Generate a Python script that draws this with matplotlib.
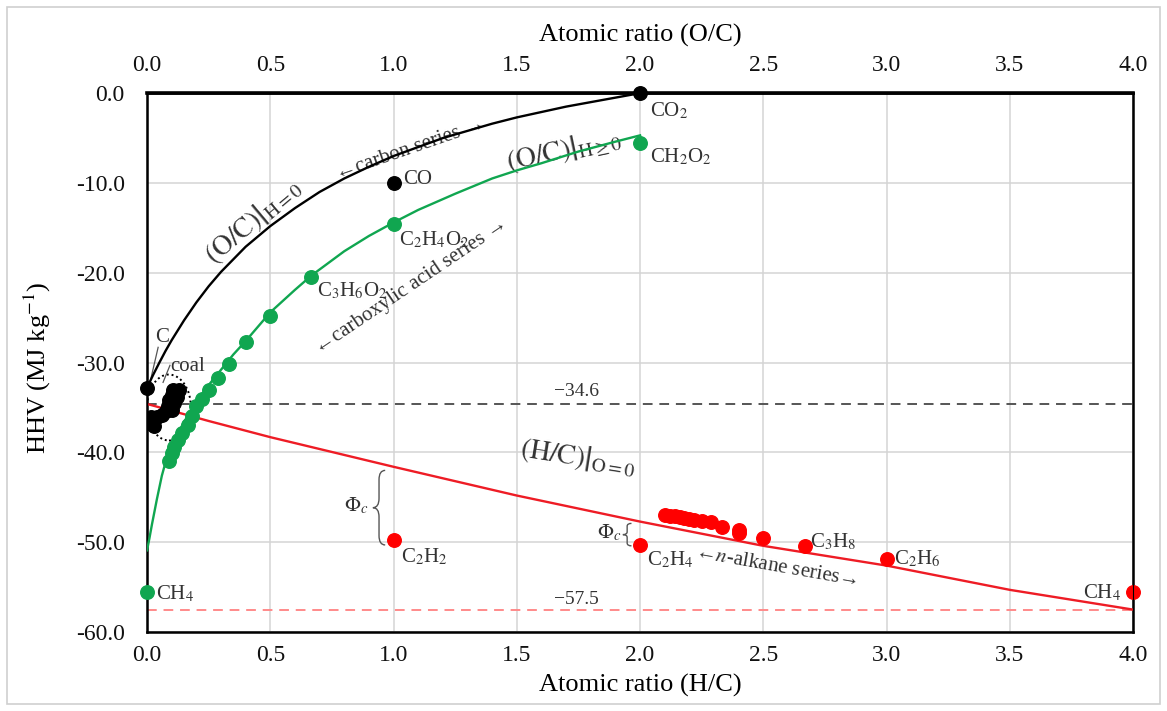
import numpy as np
import matplotlib
matplotlib.use("Agg")
import matplotlib.pyplot as plt
from matplotlib.path import Path
from matplotlib.patches import PathPatch, Ellipse, Rectangle

plt.rcParams['font.family'] = ['Liberation Serif', 'DejaVu Serif']
plt.rcParams['mathtext.fontset'] = 'stix'
plt.rcParams['axes.unicode_minus'] = False

# ---- data ----
# carbon series, plotted against O/C (top axis)
carbon_oc = [0.0, 1.0, 2.0]
carbon_hhv = [-32.8, -10.0, 0.0]

# (O/C)|H=0 curve
curve_h0_oc = [0.0, 0.025, 0.05, 0.075, 0.1, 0.15, 0.2, 0.25, 0.3, 0.4, 0.5, 0.6, 0.7,
               0.8, 0.9, 1.0, 1.1, 1.2, 1.3, 1.4, 1.5, 1.6, 1.7, 1.8, 1.9, 2.0]
curve_h0_hhv = [-32.8, -31.35, -30.0, -28.7, -27.5, -25.3, -23.3, -21.5, -19.9, -17.1,
                -14.8, -12.8, -11.0, -9.5, -8.2, -7.0, -6.0, -5.0, -4.2, -3.4, -2.7,
                -2.1, -1.5, -1.0, -0.5, 0.0]

# carboxylic acid series (O/C)
acid_oc = [2.0, 1.0, 0.667, 0.5, 0.4, 0.333, 0.286, 0.25, 0.222, 0.2,
           0.182, 0.167, 0.143, 0.125, 0.111, 0.1, 0.091]
acid_hhv = [-5.5, -14.6, -20.5, -24.8, -27.7, -30.1, -31.7, -33.0, -34.0, -34.8,
            -35.9, -37.0, -37.8, -38.6, -39.4, -40.1, -41.0]

# (O/C)|H>=0 curve
curve_acid_oc = [0.0, 0.01, 0.02, 0.03, 0.04, 0.06, 0.08, 0.1, 0.15, 0.2, 0.25, 0.3,
                 0.35, 0.4, 0.5, 0.6, 0.667, 0.8, 0.9, 1.0, 1.1, 1.25, 1.4, 1.5,
                 1.6, 1.75, 1.9, 2.0]
curve_acid_hhv = [-50.9, -49.5, -48.0, -46.6, -45.2, -42.6, -40.6, -39.2, -36.6, -34.4,
                  -32.5, -30.8, -29.1, -27.6, -24.4, -21.9, -20.3, -17.6, -15.9, -14.4,
                  -13.0, -11.2, -9.5, -8.6, -7.8, -6.5, -5.4, -4.7]

ch4_green = (0.0, -55.5)

# coal samples
coal_x = [0.015, 0.019, 0.028, 0.039, 0.06, 0.076, 0.084, 0.089, 0.1, 0.107,
          0.131, 0.12, 0.109, 0.1]
coal_hhv = [-36.0, -36.85, -37.1, -36.1, -35.8, -35.4, -34.8, -34.2, -33.6, -33.1,
            -33.0, -33.8, -34.5, -35.3]

# hydrocarbons, plotted against H/C (bottom axis)
hc_x = [1.0, 2.0, 2.1, 2.12, 2.14, 2.16, 2.18, 2.2, 2.22, 2.25, 2.286, 2.333,
        2.4, 2.4, 2.5, 2.667, 3.0, 4.0]
hc_hhv = [-49.8, -50.3, -47.0, -47.1, -47.1, -47.2, -47.3, -47.4, -47.5, -47.6,
          -47.8, -48.3, -48.6, -49.0, -49.5, -50.4, -51.9, -55.5]

# (H/C)|O=0 line
line_o0_hc = [0.0, 0.25, 0.5, 1.0, 1.5, 2.0, 2.5, 3.0, 3.5, 4.0]
line_o0_hhv = [-34.6, -36.5, -38.3, -41.6, -44.8, -47.7, -50.4, -52.6, -55.3, -57.5]

ref_black = -34.6
ref_red = -57.5

x_ticks = [0.0, 0.5, 1.0, 1.5, 2.0, 2.5, 3.0, 3.5, 4.0]
x_ticklabels = ['0.0', '0.5', '1.0', '1.5', '2.0', '2.5', '3.0', '3.5', '4.0']
y_ticks = [0, -10, -20, -30, -40, -50, -60]
y_ticklabels = ['0.0', '-10.0', '-20.0', '-30.0', '-40.0', '-50.0', '-60.0']

GREEN = '#10a650'
RED = '#ff0000'
TXT = '#333333'


def vbrace(axis, x, y0, y1, w, **kw):
    # curly brace opening to the right, tip at x - w
    ym = (y0 + y1) / 2.0
    h = (y1 - y0) / 2.0
    xm = x - w / 2.0
    verts = [(x, y1), (xm, y1), (xm, y1 - 0.25 * h),
             (xm, ym + 0.25 * h),
             (xm, ym), (x - w, ym),
             (xm, ym), (xm, ym - 0.25 * h),
             (xm, y0 + 0.25 * h),
             (xm, y0), (x, y0)]
    codes = [Path.MOVETO, Path.CURVE3, Path.CURVE3, Path.LINETO,
             Path.CURVE3, Path.CURVE3, Path.CURVE3, Path.CURVE3,
             Path.LINETO, Path.CURVE3, Path.CURVE3]
    axis.add_patch(PathPatch(Path(verts, codes), fill=False, **kw))


fig = plt.figure(figsize=(11.67, 7.11), dpi=100)
fig.patches.append(Rectangle((0.006, 0.01), 0.988, 0.98, transform=fig.transFigure,
                             fill=False, edgecolor='#cfcfcf', lw=1.2))
ax = fig.add_axes([0.126, 0.111, 0.845, 0.758])
ax.set_xlim(0, 4)
ax.set_ylim(-60, 0)
ax.set_xticks(x_ticks)
ax.set_xticklabels(x_ticklabels)
ax.set_yticks(y_ticks)
ax.set_yticklabels(y_ticklabels)
ax.tick_params(axis='x', length=0, labelsize=17, pad=9, colors='#111111')
ax.tick_params(axis='y', length=0, labelsize=17, pad=16, colors='#111111')
ax.grid(True, color='#d4d4d4', lw=1.1)
ax.set_axisbelow(True)
for s in ax.spines.values():
    s.set_color('black')
    s.set_linewidth(1.8)
ax.set_xlabel('Atomic ratio (H/C)', fontsize=19)
ax.xaxis.set_label_coords(0.5, -0.078)
ax.set_ylabel('HHV (MJ kg$^{-1}$)', fontsize=19)
ax.yaxis.set_label_coords(-0.095, 0.49)

ax2 = ax.twiny()
ax2.set_xlim(0, 4)
ax2.set_xticks(x_ticks)
ax2.set_xticklabels(x_ticklabels)
ax2.tick_params(length=0, labelsize=17, pad=12, colors='#111111')
ax2.spines['top'].set_linewidth(2.6)
ax2.set_xlabel('Atomic ratio (O/C)', fontsize=19)
ax2.xaxis.set_label_coords(0.5, 1.095)

# reference lines
ax.axhline(ref_black, color='#555555', ls=(0, (5, 3.5)), lw=1.4, zorder=2)
ax.axhline(ref_red, color='#ff8a8a', ls=(0, (5, 3.5)), lw=1.4, zorder=2)
ax.text(1.74, ref_black + 0.4, '\u221234.6', fontsize=14, color=TXT, ha='center', va='bottom')
ax.text(1.74, ref_red + 0.2, '\u221257.5', fontsize=14, color=TXT, ha='center', va='bottom')

# model curves
ax2.plot(curve_h0_oc, curve_h0_hhv, color='black', lw=1.7, zorder=3)
ax2.plot(curve_acid_oc, curve_acid_hhv, color=GREEN, lw=1.7, zorder=3)
ax.plot(line_o0_hc, line_o0_hhv, color='#ee1c25', lw=1.7, zorder=3)

# points
ms = 95
ax2.scatter(acid_oc, acid_hhv, s=ms, color=GREEN, zorder=5, clip_on=False)
ax2.scatter([ch4_green[0]], [ch4_green[1]], s=ms, color=GREEN, zorder=5, clip_on=False)
ax.scatter(coal_x, coal_hhv, s=ms, color='black', zorder=5)
ax2.scatter(carbon_oc, carbon_hhv, s=ms, color='black', zorder=6, clip_on=False)
ax.scatter(hc_x, hc_hhv, s=ms, color=RED, zorder=5, clip_on=False)

# coal ellipse and leaders
ax.add_patch(Ellipse((0.089, -35.0), 0.178, 7.35, fill=False, ls=(0, (1, 1.5)),
                     lw=1.4, color='black', zorder=4))
ax.plot([0.045, 0.012], [-28.3, -32.2], color='#555555', lw=0.9, zorder=4)
ax.plot([0.093, 0.065], [-30.3, -32.2], color='#555555', lw=0.9, zorder=4)
ax.text(0.062, -27.2, 'C', fontsize=15, color=TXT, ha='center', va='center')
ax.text(0.095, -30.4, 'coal', fontsize=15, color=TXT, ha='left', va='center')

# compound labels
fs = 15
ax.text(2.04, -0.8, 'CO$_2$', fontsize=fs, color=TXT, ha='left', va='top')
ax.text(2.04, -6.0, 'CH$_2$O$_2$', fontsize=fs, color=TXT, ha='left', va='top')
ax.text(1.04, -9.6, 'CO', fontsize=fs, color=TXT, ha='left', va='center')
ax.text(1.02, -15.2, 'C$_2$H$_4$O$_2$', fontsize=fs, color=TXT, ha='left', va='top')
ax.text(0.69, -20.9, 'C$_3$H$_6$O$_2$', fontsize=fs, color=TXT, ha='left', va='top')
ax.text(1.03, -50.5, 'C$_2$H$_2$', fontsize=fs, color=TXT, ha='left', va='top')
ax.text(2.03, -50.8, 'C$_2$H$_4$', fontsize=fs, color=TXT, ha='left', va='top')
ax.text(2.69, -50.0, 'C$_3$H$_8$', fontsize=fs, color=TXT, ha='left', va='center')
ax.text(3.03, -51.9, 'C$_2$H$_6$', fontsize=fs, color=TXT, ha='left', va='center')
ax.text(3.95, -55.6, 'CH$_4$', fontsize=fs, color=TXT, ha='right', va='center')
ax.text(0.035, -55.8, 'CH$_4$', fontsize=fs, color=TXT, ha='left', va='center')

# curve annotations
ax.text(0.43, -14.2, r'$\left.(\mathrm{O/C})\right|_{\mathrm{H=0}}$', fontsize=20, color=TXT,
        rotation=40, ha='center', va='center', rotation_mode='anchor')
ax.text(1.07, -6.2, '\u2190carbon series \u2192', fontsize=15, color=TXT,
        rotation=19, ha='center', va='center', rotation_mode='anchor')
ax.text(1.69, -6.4, r'$\left.(\mathrm{O/C})\right|_{\mathrm{H\geq0}}$', fontsize=20, color=TXT,
        rotation=12, ha='center', va='center', rotation_mode='anchor')
ax.text(1.07, -21.5, '\u2190carboxylic acid series \u2192', fontsize=15, color=TXT,
        rotation=34, ha='center', va='center', rotation_mode='anchor')
ax.text(1.75, -40.5, r'$\left.(\mathrm{H/C})\right|_{\mathrm{O=0}}$', fontsize=20, color=TXT,
        rotation=-9, ha='center', va='center', rotation_mode='anchor')
ax.text(2.55, -52.7, '\u2190$n$-alkane series\u2192', fontsize=15, color=TXT,
        rotation=-10, ha='center', va='center', rotation_mode='anchor')

# Phi_c braces
vbrace(ax, 0.966, -50.3, -42.0, 0.05, color='#555555', lw=1.0, zorder=4)
ax.text(0.9, -46.0, r'$\Phi_c$', fontsize=15, color=TXT, ha='right', va='center')
vbrace(ax, 1.965, -50.4, -47.9, 0.035, color='#555555', lw=1.0, zorder=4)
ax.text(1.925, -49.0, r'$\Phi_c$', fontsize=15, color=TXT, ha='right', va='center')

fig.savefig('out.png', dpi=100)
